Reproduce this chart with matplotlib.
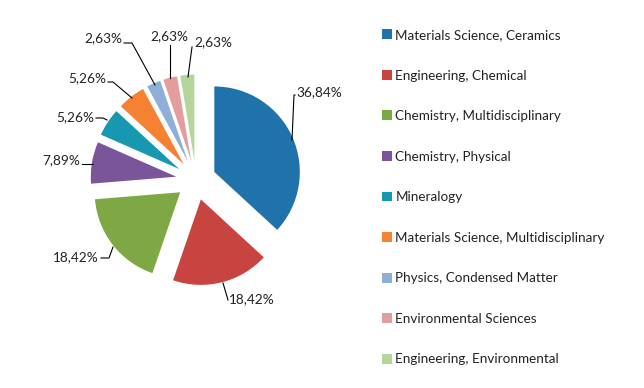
import matplotlib
matplotlib.use("Agg")
import matplotlib.pyplot as plt
import numpy as np

categories = ["Materials Science, Ceramics", "Engineering, Chemical",
              "Chemistry, Multidisciplinary", "Chemistry, Physical", "Mineralogy",
              "Materials Science, Multidisciplinary", "Physics, Condensed Matter",
              "Environmental Sciences", "Engineering, Environmental"]
values = [36.84, 18.42, 18.42, 7.89, 5.26, 5.26, 2.63, 2.63, 2.63]
labels = ["36,84%", "18,42%", "18,42%", "7,89%", "5,26%", "5,26%", "2,63%", "2,63%", "2,63%"]
colors = ["#1F72AA", "#C84440", "#7EA843", "#7B559A", "#1798B0",
          "#F58232", "#8FAFD8", "#E59C9C", "#B5D59B"]

plt.rcParams['font.family'] = ['Lato', 'DejaVu Sans']
W, H = 644, 388
fig = plt.figure(figsize=(W / 100, H / 100), dpi=100)
ax = fig.add_axes([0, 0, 1, 1])

cx, cy, R = 196, H - 180, 85.5
explode = [20] * len(values)
wedges, _ = ax.pie(values, colors=colors, startangle=90, counterclock=False,
                   center=(cx, cy), radius=R, explode=explode,
                   wedgeprops=dict(linewidth=0), frame=True)
ax.set_xlim(0, W)
ax.set_ylim(0, H)
ax.set_aspect('equal')
ax.axis('off')

# label leader lines: (anchor on wedge, elbow, text pos, ha) in pixel coords (y down)
label_spec = [
    ((292, 140), (294, 95), (296, 92), 'left'),
    ((223, 283), (228, 300), (229, 299), 'left'),
    ((113, 247), (109, 258), (99, 257), 'right'),
    ((93, 164), (82, 164), (80, 160), 'right'),
    ((107, 120), (103, 118), (94, 117), 'right'),
    ((132, 98), (113, 82), (106, 78), 'right'),
    ((155, 85), (132, 43), (122, 38), 'right'),
    ((170, 78), (170, 45), (169, 36), 'center'),
    ((188, 77), (192, 47), (213, 42), 'center'),
]
for (a, e, t, ha), lab in zip(label_spec, labels):
    ax.plot([a[0], e[0], t[0] + (2 if ha == 'right' else -1) if ha != 'center' else e[0]],
            [H - a[1], H - e[1], H - e[1]], color='black', lw=0.8)
    ax.text(t[0], H - t[1], lab, ha=ha, va='center', fontsize=9.8, color='#222222')

ax.legend(wedges, categories, loc='upper left', bbox_to_anchor=(382 / W, 1 - 29 / H),
          bbox_transform=fig.transFigure, frameon=False, fontsize=9.7,
          handlelength=0.75, handleheight=0.75, handletextpad=0.25,
          labelspacing=2.12, borderaxespad=0, borderpad=0, labelcolor='#222222')

fig.savefig("out.png", dpi=100)
